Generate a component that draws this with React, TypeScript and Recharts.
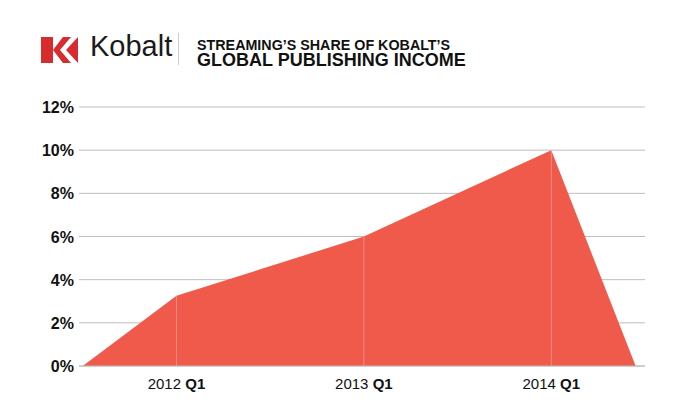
import { AreaChart, Area, XAxis, YAxis, CartesianGrid, ReferenceLine } from 'recharts'

// position in years (2012 = 2012 Q1), share of publishing income in %
const quarters = [2011.5, 2012, 2013, 2014, 2014.45]
const streamingShare = [0, 3.25, 6, 10, 0]
const xTicks = [2012, 2013, 2014]
const yTicks = [0, 2, 4, 6, 8, 10, 12]

const data = quarters.map((q, i) => ({ q, share: streamingShare[i] }))

const FONT = '"Liberation Sans", Arial, Helvetica, sans-serif'

function QuarterTick(props: any) {
  const { x, y, payload } = props
  return (
    <text x={x} y={y + 15} textAnchor="middle" fontFamily={FONT} fontSize={15} fill="#111">
      <tspan>{payload.value} </tspan>
      <tspan fontWeight="bold">Q1</tspan>
    </text>
  )
}

function PercentTick(props: any) {
  const { x, y, payload } = props
  return (
    <text x={x} y={y + 6} textAnchor="end" fontFamily={FONT} fontSize={16} fontWeight="bold" fill="#111">
      {payload.value}%
    </text>
  )
}

function Header() {
  return (
    <div style={{ position: 'absolute', left: 0, top: 0, width: 680, height: 80, fontFamily: FONT }}>
      <svg width={40} height={28} style={{ position: 'absolute', left: 41, top: 37 }}>
        <rect x={0} y={0} width={37} height={26} fill="#d72b30" />
        <polygon points="12,0 37,0 25,13 37,26 12,26 12,13" fill="#fff" />
        <polygon points="12,13 22,0 30,0 19,13 30,26 22,26" fill="#d72b30" />
      </svg>
      <div style={{ position: 'absolute', left: 90, top: 30, fontSize: 29, color: '#1a1a1a' }}>
        Kobalt
      </div>
      <div style={{ position: 'absolute', left: 178, top: 33, width: 1, height: 32, background: '#ccc' }} />
      <svg width={300} height={40} style={{ position: 'absolute', left: 197, top: 36 }}>
        <text x={0} y={14} fontFamily={FONT} fontSize={14.3} fontWeight="bold" fill="#111">
          STREAMING’S SHARE OF KOBALT’S
        </text>
        <text x={0} y={30} fontFamily={FONT} fontSize={18} fontWeight="bold" fill="#111">
          GLOBAL PUBLISHING INCOME
        </text>
      </svg>
    </div>
  )
}

export default function App() {
  return (
    <div style={{ position: 'relative', margin: -8, width: 680, height: 417, background: '#fff' }}>
      <Header />
      <AreaChart
        width={680}
        height={417}
        data={data}
        margin={{ top: 107, right: 35, left: 0, bottom: 21 }}
      >
        <CartesianGrid vertical={false} stroke="#bdbdbd" strokeWidth={1} />
        <XAxis
          dataKey="q"
          type="number"
          domain={[2011.48, 2014.5]}
          ticks={xTicks}
          tick={<QuarterTick />}
          tickLine={false}
          axisLine={{ stroke: '#bdbdbd' }}
          height={30}
          interval={0}
        />
        <YAxis
          domain={[0, 12]}
          ticks={yTicks}
          tick={<PercentTick />}
          tickLine={false}
          axisLine={false}
          width={79}
          tickSize={0}
          tickMargin={5}
          interval={0}
        />
        <Area
          type="linear"
          dataKey="share"
          stroke="none"
          fill="#ef5a4a"
          fillOpacity={1}
          isAnimationActive={false}
        />
        {xTicks.map((t) => (
          <ReferenceLine
            key={t}
            segment={[
              { x: t, y: 0 },
              { x: t, y: streamingShare[quarters.indexOf(t)] },
            ]}
            stroke="rgba(255,255,255,0.3)"
            strokeWidth={1}
          />
        ))}
      </AreaChart>
    </div>
  )
}
